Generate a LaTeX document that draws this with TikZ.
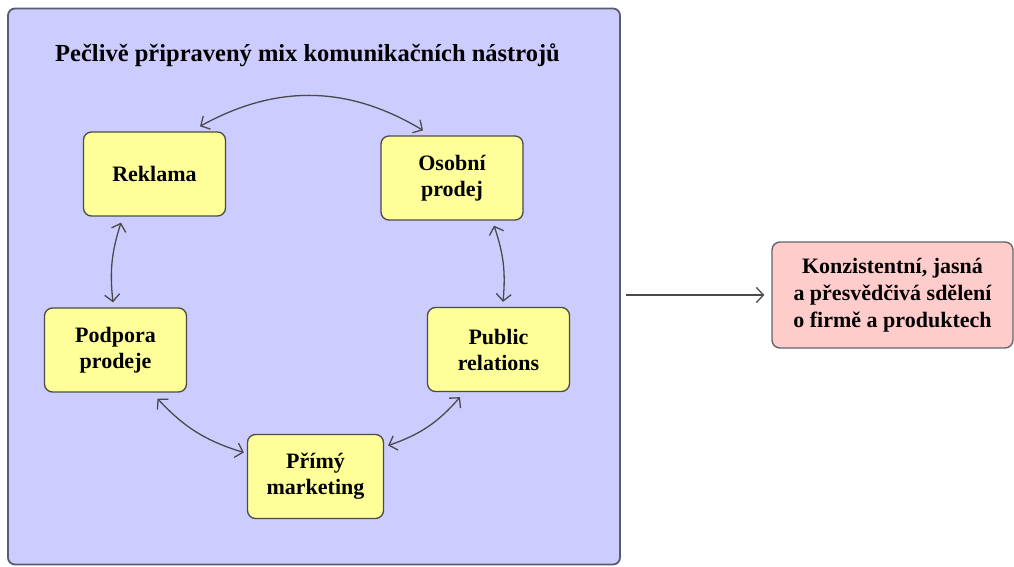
\documentclass[tikz,border=0pt]{standalone}
\usepackage{fontspec}
\setmainfont{Liberation Serif}
\usetikzlibrary{arrows.meta}

\definecolor{mixfill}{HTML}{CCCCFF}
\definecolor{mixedge}{HTML}{5A5A72}
\definecolor{toolfill}{HTML}{FFFF99}
\definecolor{resultfill}{HTML}{FFCCCC}
\definecolor{edgegray}{HTML}{4A4A4A}

\tikzset{
	tool/.style={draw=edgegray,line width=1.3pt,fill=toolfill,rounded corners=8pt,
		minimum width=142pt,minimum height=84pt,align=center,
		font=\fontsize{22}{26}\selectfont\bfseries},
	link/.style={<->,line width=1.3pt,draw=edgegray}
}

\begin{document}
\begin{tikzpicture}[x=1pt,y=1pt,>={Straight Barb[length=7pt,width=15pt]}]
		\useasboundingbox[fill=white] (0,0) rectangle (1014,-567);

		\node[draw=mixedge,line width=1.8pt,fill=mixfill,rounded corners=7pt,
			minimum width=612pt,minimum height=556pt] (mix) at (314,-286.5) {};
		\node[font=\fontsize{24.5}{28}\selectfont\bfseries] (title) at (307.5,-55) {Pečlivě připravený mix komunikačních nástrojů};

		\node[tool] (reklama) at (154.5,-174) {Reklama};
		\node[tool] (osobni) at (452,-178) {Osobní\\prodej};
		\node[tool] (podpora) at (115.5,-350) {Podpora\\prodeje};
		\node[tool] (public) at (498.5,-349.5) {Public\\relations};
		\node[tool,minimum width=136pt] (primy) at (315.5,-476.5) {Přímý\\marketing};

		\draw[link] ([xshift=45.5pt,yshift=5pt]reklama.north) to[bend left=30] ([xshift=-29pt,yshift=5pt]osobni.north);
		\draw[link] ([xshift=-33.5pt,yshift=-6pt]reklama.south) to[bend right=12] ([xshift=-2.5pt,yshift=5pt]podpora.north);
		\draw[link] ([xshift=42pt,yshift=-5pt]osobni.south) to[bend left=12] ([xshift=4.5pt,yshift=5pt]public.north);
		\draw[link] ([xshift=42pt,yshift=-6pt]podpora.south) to[bend right=15] ([xshift=-3pt,yshift=24pt]primy.west);
		\draw[link] ([xshift=-38.5pt,yshift=-5pt]public.south) to[bend left=15] ([xshift=4pt,yshift=31pt]primy.east);

		\node[draw=edgegray!85,line width=1.4pt,fill=resultfill,rounded corners=8pt,
			minimum width=241pt,minimum height=106pt,align=center,
			font=\fontsize{22}{27}\selectfont\bfseries] (result) at (892.5,-295) {Konzistentní, jasná\\a přesvědčivá sdělení\\o firmě a produktech};

		\draw[->,line width=1.3pt,draw=edgegray,shorten <=5pt,shorten >=7pt] (result.west -| mix.east) -- (result.west);
\end{tikzpicture}
\end{document}
